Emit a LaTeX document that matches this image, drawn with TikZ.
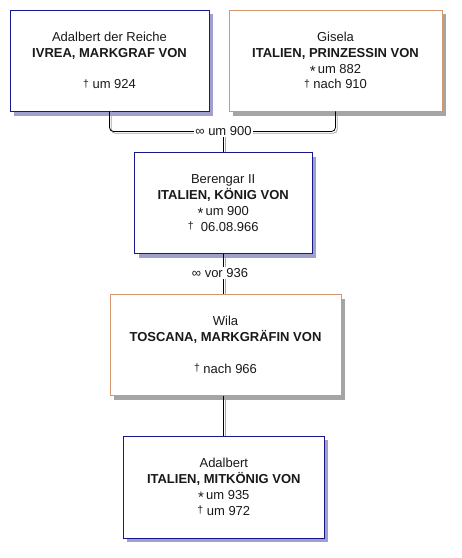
\documentclass[tikz,border=0pt]{standalone}
\usepackage{fontspec}
\setmainfont{Liberation Sans}
\definecolor{boxblue}{RGB}{24,24,140}
\definecolor{boxorange}{RGB}{214,150,112}
\definecolor{shblue}{RGB}{160,160,205}
\definecolor{shgray}{RGB}{165,165,165}
\definecolor{txt}{RGB}{25,25,25}
\newcommand{\dg}{{\fontsize{10.5}{10}\selectfont\raisebox{1.5pt}[0pt][0pt]{†}}}
\newcommand{\bs}{{\fontsize{15}{10}\selectfont\raisebox{-3.2pt}[0pt][0pt]{*}}}
\tikzset{
  person/.style={draw, line width=0.9pt, fill=white, inner sep=0pt, align=center,
    text=txt, font=\fontsize{13}{15.8}\selectfont},
  bluebox/.style={person, draw=boxblue},
  orangebox/.style={person, draw=boxorange},
  conn/.style={line width=0.8pt, black},
  connshadow/.style={line width=0.8pt, draw=shgray},
  mlabel/.style={fill=white, inner sep=1pt, text=txt, font=\fontsize{13}{14}\selectfont}
}
\begin{document}
\begin{tikzpicture}[x=1pt, y=-1pt]
\fill[white] (0,0) rectangle (462,558);
\useasboundingbox (0,0) rectangle (462,558);

% box shadows
\fill[shblue] (14,14) rectangle (213,115.5);
\fill[shgray] (233,14) rectangle (446,115.5);
\fill[shblue] (138.5,156.5) rectangle (316,257.5);
\fill[shgray] (114,298.5) rectangle (345,399.5);
\fill[shblue] (127.3,440) rectangle (328.3,542);

\node[bluebox, minimum width=199pt, minimum height=101pt] (b1) at (109.5,60.5)
  {Adalbert der Reiche\\ \textbf{IVREA, MARKGRAF VON}\\ \strut\\ \dg\ um 924};
\node[orangebox, minimum width=213pt, minimum height=101pt] (b2) at (335.5,60.5)
  {Gisela\\ \textbf{ITALIEN, PRINZESSIN VON}\\ \bs\,um 882\\ \dg\ nach 910};
\node[bluebox, minimum width=177.5pt, minimum height=101pt] (b3) at (223.2,203)
  {Berengar II\\ \textbf{ITALIEN, KÖNIG VON}\\ \bs\,um 900\\ \dg\ \ 06.08.966};
\node[orangebox, minimum width=231pt, minimum height=101pt] (b4) at (225.5,345)
  {Wila\\ \textbf{TOSCANA, MARKGRÄFIN VON}\\ \strut\\ \dg\ nach 966};
\node[bluebox, minimum width=201pt, minimum height=102pt] (b5) at (223.8,487)
  {Adalbert\\ \textbf{ITALIEN, MITKÖNIG VON}\\ \bs\,um 935\\ \dg\ um 972};

\coordinate (m1) at (223.5,131.5);
\coordinate (m1s) at (225.3,133.3);
% connector shadows
\draw[connshadow, rounded corners=4pt] ([xshift=1.8pt]b1.south) -- ([xshift=1.8pt]b1.south |- m1s) -- ([xshift=1.8pt]b2.south |- m1s) -- ([xshift=1.8pt]b2.south);
\draw[connshadow] (m1s) -- (m1s |- b3.north);
\draw[connshadow] ([xshift=1.8pt]b3.south) -- ([xshift=1.8pt]b3.south |- b4.north);
\draw[connshadow] ([xshift=1.8pt]b5.north |- b4.south) -- ([xshift=1.8pt]b5.north);
% connectors
\draw[conn, rounded corners=4pt] (b1.south) -- (b1.south |- m1) -- (b2.south |- m1) -- (b2.south);
\draw[conn] (m1) -- (m1 |- b3.north);
\node[mlabel] (l1) at (m1) {∞ um 900};

\draw[conn] (b3.south) -- (b3.south |- b4.north);
\node[mlabel] (l2) at (220,273) {∞ vor 936};

\draw[conn] (b5.north |- b4.south) -- (b5.north);
\end{tikzpicture}
\end{document}
